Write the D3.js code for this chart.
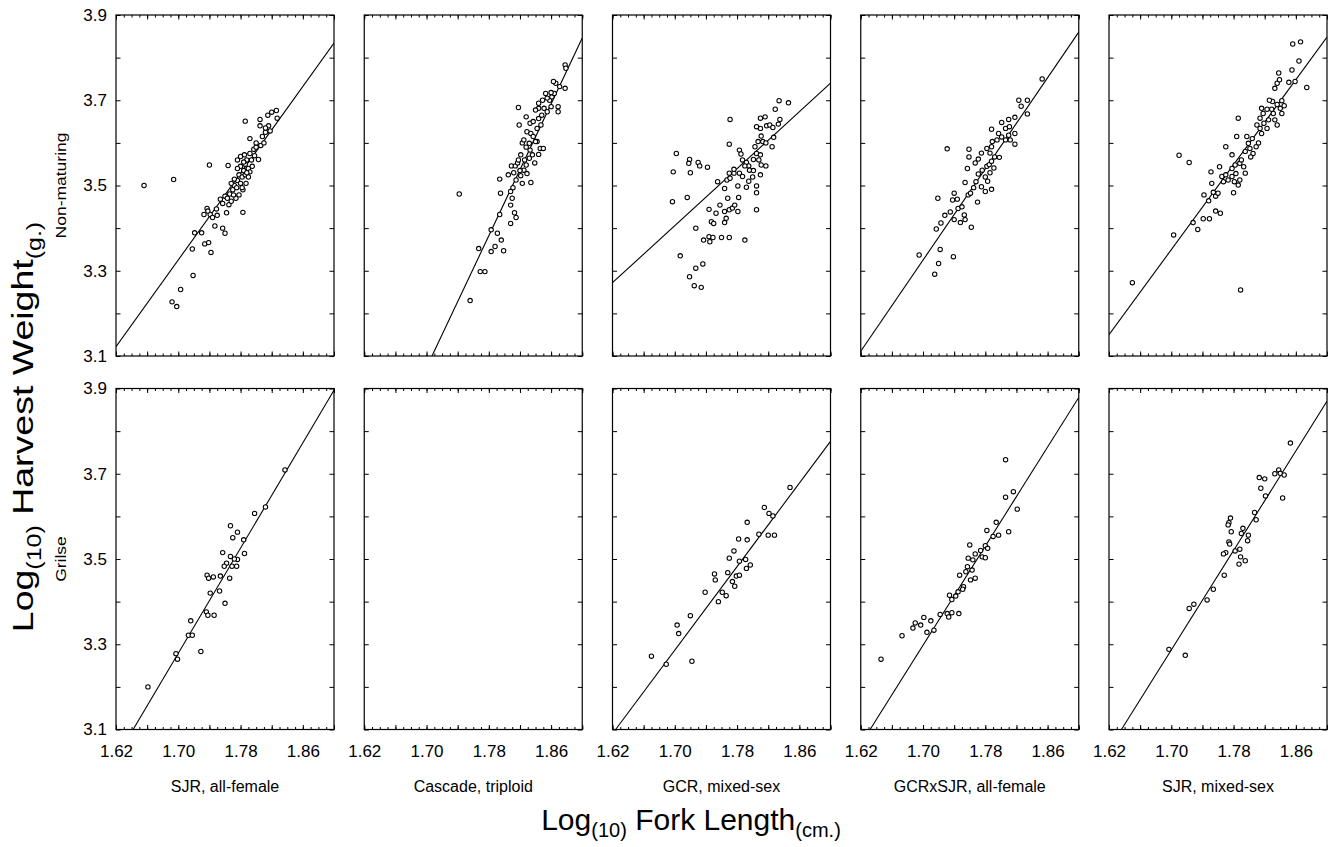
<!DOCTYPE html>
<html><head><meta charset="utf-8">
<script src="https://cdn.jsdelivr.net/npm/d3@7"></script>
<style>
body{margin:0;background:#fff}
svg{display:block}
text{font-family:"Liberation Sans",Arial,sans-serif;fill:#000}
</style>
</head><body>
<svg id="chart" width="1328" height="847"></svg>
<script>
const categories = ["SJR, all-female","Cascade, triploid","GCR, mixed-sex","GCRxSJR, all-female","SJR, mixed-sex"];
const rowLabels = ["Non-maturing","Grilse"];
const xTickValues = [1.62,1.70,1.78,1.86];
const yTickValues = [3.1,3.3,3.5,3.7,3.9];
const xDomain = [1.62,1.90];
const yDomain = [3.1,3.9];

// Non-maturing (top row)
const nmSJRFemale = [[1.656,3.50],[1.694,3.514],[1.740,3.548],[1.764,3.547],[1.786,3.651],[1.783,3.437],
[1.692,3.227],[1.698,3.216],[1.703,3.256],[1.719,3.289],[1.718,3.351],[1.721,3.389],[1.730,3.389],[1.734,3.363],[1.739,3.366],[1.742,3.343],
[1.737,3.446],[1.741,3.432],[1.749,3.445],[1.744,3.425],[1.747,3.405],[1.757,3.400],[1.760,3.388],[1.762,3.436],[1.754,3.468],[1.757,3.458],[1.760,3.475],[1.765,3.455],[1.768,3.463],[1.766,3.480],[1.770,3.490],[1.772,3.500],[1.768,3.505],[1.775,3.495],[1.778,3.478],[1.774,3.470],[1.776,3.512],[1.780,3.505],[1.778,3.525],[1.782,3.520],[1.784,3.535],[1.780,3.545],[1.786,3.550],[1.776,3.560],[1.780,3.568],[1.785,3.572],[1.788,3.560],[1.790,3.540],[1.792,3.532],[1.786,3.525],[1.790,3.520],[1.795,3.545],[1.792,3.575],[1.797,3.585],[1.800,3.590],[1.792,3.610],[1.803,3.561],[1.806,3.594],[1.810,3.600],[1.808,3.615],[1.812,3.625],[1.805,3.640],[1.805,3.655],[1.815,3.665],[1.820,3.672],[1.826,3.676],[1.827,3.658],[1.816,3.640],[1.812,3.635],[1.818,3.628],[1.800,3.600],[1.783,3.490],[1.772,3.515],[1.787,3.505],[1.782,3.495],[1.771,3.478],[1.763,3.470],[1.750,3.430],[1.738,3.440],[1.733,3.432],[1.788,3.530],[1.794,3.560],[1.798,3.570],[1.784,3.555],[1.776,3.540]];
const nmCascadeTriploid = [[1.742,3.48],[1.818,3.683],[1.756,3.23],[1.769,3.298],[1.775,3.298],[1.767,3.352],[1.783,3.396],[1.791,3.388],[1.796,3.372],[1.788,3.357],[1.783,3.345],[1.799,3.347],[1.794,3.432],[1.808,3.411],[1.813,3.436],[1.815,3.425],[1.808,3.454],[1.795,3.482],[1.794,3.515],[1.805,3.525],[1.808,3.486],[1.810,3.470],[1.811,3.495],[1.809,3.546],[1.814,3.546],[1.817,3.553],[1.821,3.572],[1.825,3.536],[1.829,3.528],[1.834,3.507],[1.823,3.505],[1.815,3.513],[1.821,3.523],[1.828,3.548],[1.832,3.564],[1.839,3.553],[1.836,3.572],[1.844,3.573],[1.846,3.587],[1.850,3.587],[1.842,3.603],[1.833,3.583],[1.823,3.600],[1.825,3.607],[1.829,3.626],[1.819,3.642],[1.828,3.661],[1.833,3.646],[1.837,3.650],[1.842,3.634],[1.847,3.642],[1.844,3.657],[1.848,3.665],[1.844,3.681],[1.851,3.681],[1.855,3.673],[1.860,3.685],[1.858,3.700],[1.861,3.708],[1.864,3.716],[1.869,3.685],[1.869,3.673],[1.860,3.718],[1.855,3.705],[1.866,3.740],[1.863,3.744],[1.871,3.732],[1.878,3.783],[1.879,3.775],[1.878,3.728],[1.853,3.716],[1.849,3.700],[1.840,3.677],[1.844,3.693],[1.834,3.622],[1.837,3.615],[1.840,3.603],[1.832,3.599],[1.828,3.590],[1.818,3.560],[1.826,3.560],[1.820,3.535],[1.812,3.530]];
const nmGCRMixed = [[1.702,3.575],[1.698,3.532],[1.697,3.462],[1.716,3.472],[1.707,3.335],[1.719,3.561],[1.718,3.552],[1.720,3.530],[1.730,3.554],[1.732,3.546],[1.742,3.543],[1.727,3.400],[1.736,3.316],[1.727,3.306],[1.719,3.286],[1.725,3.265],[1.734,3.261],[1.737,3.372],[1.744,3.380],[1.745,3.368],[1.749,3.378],[1.760,3.378],[1.770,3.378],[1.790,3.372],[1.744,3.444],[1.747,3.415],[1.750,3.411],[1.753,3.435],[1.758,3.454],[1.764,3.413],[1.766,3.423],[1.764,3.439],[1.770,3.443],[1.774,3.447],[1.777,3.454],[1.781,3.439],[1.768,3.470],[1.782,3.472],[1.805,3.443],[1.764,3.493],[1.755,3.509],[1.767,3.513],[1.771,3.517],[1.776,3.529],[1.781,3.499],[1.792,3.496],[1.805,3.499],[1.805,3.483],[1.770,3.529],[1.776,3.538],[1.783,3.529],[1.787,3.521],[1.771,3.655],[1.770,3.597],[1.783,3.583],[1.785,3.574],[1.787,3.560],[1.792,3.554],[1.795,3.546],[1.790,3.546],[1.796,3.536],[1.801,3.535],[1.801,3.561],[1.805,3.575],[1.810,3.572],[1.808,3.560],[1.811,3.548],[1.817,3.546],[1.810,3.525],[1.803,3.591],[1.807,3.603],[1.811,3.616],[1.813,3.603],[1.817,3.600],[1.825,3.591],[1.827,3.613],[1.810,3.634],[1.805,3.638],[1.810,3.658],[1.818,3.640],[1.822,3.642],[1.826,3.636],[1.833,3.644],[1.835,3.655],[1.829,3.679],[1.834,3.699],[1.846,3.694],[1.816,3.661],[1.800,3.520],[1.795,3.510]];
const nmGCRxSJRFemale = [[1.731,3.586],[1.853,3.750],[1.823,3.700],[1.834,3.700],[1.826,3.686],[1.834,3.668],[1.818,3.660],[1.810,3.655],[1.695,3.337],[1.720,3.317],[1.715,3.292],[1.722,3.350],[1.739,3.333],[1.717,3.398],[1.723,3.412],[1.719,3.470],[1.735,3.438],[1.740,3.420],[1.748,3.413],[1.754,3.420],[1.753,3.431],[1.762,3.402],[1.745,3.446],[1.738,3.466],[1.740,3.482],[1.744,3.468],[1.754,3.507],[1.758,3.478],[1.761,3.482],[1.770,3.461],[1.765,3.495],[1.768,3.509],[1.775,3.497],[1.780,3.486],[1.788,3.491],[1.771,3.527],[1.776,3.536],[1.767,3.553],[1.771,3.562],[1.775,3.576],[1.759,3.567],[1.759,3.585],[1.782,3.545],[1.785,3.549],[1.791,3.541],[1.788,3.557],[1.786,3.576],[1.792,3.567],[1.798,3.566],[1.782,3.587],[1.788,3.591],[1.789,3.603],[1.795,3.607],[1.801,3.614],[1.797,3.622],[1.788,3.632],[1.801,3.648],[1.806,3.634],[1.810,3.618],[1.812,3.607],[1.818,3.597],[1.818,3.622],[1.811,3.638],[1.806,3.607],[1.780,3.520],[1.786,3.530],[1.783,3.510],[1.750,3.450],[1.728,3.430],[1.757,3.540]];
const nmSJRMixed = [[1.650,3.272],[1.789,3.255],[1.710,3.571],[1.723,3.554],[1.703,3.384],[1.728,3.413],[1.734,3.397],[1.741,3.422],[1.749,3.422],[1.757,3.440],[1.763,3.435],[1.742,3.478],[1.748,3.464],[1.754,3.484],[1.752,3.505],[1.757,3.475],[1.760,3.482],[1.780,3.483],[1.762,3.544],[1.751,3.532],[1.765,3.521],[1.767,3.509],[1.773,3.513],[1.770,3.525],[1.778,3.521],[1.781,3.509],[1.786,3.501],[1.788,3.513],[1.783,3.528],[1.778,3.540],[1.782,3.548],[1.788,3.552],[1.793,3.544],[1.795,3.529],[1.778,3.572],[1.770,3.591],[1.784,3.615],[1.786,3.658],[1.797,3.615],[1.799,3.599],[1.801,3.587],[1.805,3.575],[1.809,3.591],[1.812,3.600],[1.802,3.567],[1.795,3.580],[1.810,3.642],[1.814,3.634],[1.816,3.622],[1.819,3.646],[1.823,3.634],[1.825,3.654],[1.814,3.658],[1.818,3.669],[1.823,3.679],[1.816,3.681],[1.829,3.679],[1.831,3.669],[1.833,3.654],[1.836,3.642],[1.830,3.697],[1.836,3.690],[1.840,3.681],[1.842,3.699],[1.845,3.687],[1.842,3.669],[1.836,3.740],[1.833,3.728],[1.839,3.748],[1.838,3.764],[1.851,3.742],[1.859,3.744],[1.864,3.792],[1.855,3.771],[1.874,3.730],[1.856,3.832],[1.866,3.837],[1.826,3.700],[1.804,3.610],[1.790,3.560]];

// Grilse (bottom row)
const grSJRFemale = [[1.837,3.709],[1.812,3.622],[1.798,3.607],[1.767,3.578],[1.776,3.563],[1.770,3.550],[1.784,3.545],[1.785,3.513],[1.776,3.499],[1.772,3.500],[1.767,3.506],[1.762,3.490],[1.757,3.515],[1.769,3.483],[1.775,3.483],[1.766,3.455],[1.759,3.483],[1.754,3.460],[1.760,3.396],[1.745,3.458],[1.737,3.462],[1.739,3.455],[1.741,3.420],[1.753,3.425],[1.736,3.376],[1.738,3.368],[1.746,3.368],[1.716,3.355],[1.713,3.321],[1.718,3.321],[1.661,3.200],[1.697,3.278],[1.699,3.265],[1.729,3.283]];
const grCascadeTriploid = [];
const grGCRMixed = [[1.848,3.668],[1.815,3.621],[1.821,3.607],[1.826,3.601],[1.793,3.586],[1.782,3.547],[1.793,3.545],[1.808,3.558],[1.820,3.556],[1.828,3.556],[1.776,3.519],[1.770,3.502],[1.783,3.495],[1.791,3.499],[1.797,3.486],[1.792,3.478],[1.768,3.468],[1.751,3.465],[1.752,3.451],[1.779,3.460],[1.783,3.462],[1.774,3.447],[1.777,3.436],[1.739,3.422],[1.761,3.422],[1.766,3.414],[1.756,3.400],[1.720,3.367],[1.703,3.345],[1.705,3.325],[1.670,3.272],[1.689,3.253],[1.722,3.260]];
const grGCRxSJRFemale = [[1.806,3.733],[1.806,3.645],[1.816,3.658],[1.821,3.617],[1.810,3.564],[1.794,3.586],[1.797,3.556],[1.790,3.553],[1.782,3.567],[1.760,3.533],[1.780,3.531],[1.783,3.525],[1.774,3.520],[1.776,3.505],[1.780,3.503],[1.767,3.512],[1.764,3.498],[1.758,3.502],[1.757,3.482],[1.763,3.474],[1.755,3.470],[1.747,3.462],[1.761,3.451],[1.767,3.455],[1.752,3.435],[1.751,3.429],[1.745,3.423],[1.734,3.415],[1.737,3.405],[1.742,3.413],[1.731,3.372],[1.737,3.374],[1.746,3.372],[1.733,3.364],[1.646,3.265],[1.673,3.320],[1.687,3.338],[1.690,3.350],[1.701,3.363],[1.705,3.328],[1.714,3.333],[1.697,3.345],[1.710,3.355],[1.722,3.370]];
const grSJRMixed = [[1.853,3.772],[1.838,3.709],[1.840,3.701],[1.845,3.697],[1.833,3.700],[1.843,3.643],[1.813,3.691],[1.820,3.688],[1.815,3.666],[1.821,3.648],[1.807,3.609],[1.809,3.592],[1.776,3.596],[1.774,3.585],[1.773,3.580],[1.777,3.564],[1.792,3.572],[1.799,3.556],[1.790,3.560],[1.798,3.543],[1.774,3.540],[1.775,3.535],[1.788,3.523],[1.782,3.519],[1.770,3.515],[1.767,3.512],[1.789,3.505],[1.787,3.488],[1.795,3.496],[1.768,3.462],[1.754,3.429],[1.746,3.404],[1.729,3.394],[1.723,3.384],[1.697,3.288],[1.718,3.274]];

// Fitted regression lines: [[x1,y1],[x2,y2]] in data units
const fitNonMaturing = [[[1.62,3.122],[1.90,3.834]],[[1.707,3.10],[1.90,3.846]],[[1.62,3.272],[1.90,3.740]],[[1.62,3.111],[1.90,3.860]],[[1.62,3.150],[1.90,3.848]]];
const fitGrilse = [[[1.642,3.10],[1.90,3.896]],null,[[1.624,3.10],[1.90,3.776]],[[1.632,3.10],[1.90,3.879]],[[1.636,3.10],[1.90,3.870]]];

const pointsByRow = [
  [nmSJRFemale,nmCascadeTriploid,nmGCRMixed,nmGCRxSJRFemale,nmSJRMixed],
  [grSJRFemale,grCascadeTriploid,grGCRMixed,grGCRxSJRFemale,grSJRMixed]
];
const fitsByRow = [fitNonMaturing, fitGrilse];

// Layout
const svg = d3.select("#chart");
const panelW = 218, panelH = 341;
const left0 = 116, stepX = 248.25;
const rowTop = [15, 388.5];

const x = d3.scaleLinear().domain(xDomain).range([0, panelW]);
const y = d3.scaleLinear().domain(yDomain).range([panelH, 0]);
const minorX = d3.range(0,29).map(i => +(1.62 + i*0.01).toFixed(2));
const majorX = d3.range(0,8).map(i => +(1.62 + i*0.04).toFixed(2));
const yTicksAll = d3.range(0,9).map(i => +(3.1 + i*0.1).toFixed(1));

svg.append("defs").append("clipPath").attr("id","pclip")
  .append("rect").attr("width",panelW).attr("height",panelH);

rowTop.forEach((top, r) => {
  categories.forEach((cat, c) => {
    const g = svg.append("g").attr("transform",`translate(${left0 + c*stepX},${top})`);
    const styleAxis = a => { a.select(".domain").remove(); a.selectAll("line").attr("stroke","#000").attr("stroke-width",1); };
    g.append("g").call(d3.axisTop(x).tickValues(minorX).tickSize(-2.5).tickFormat("")).call(styleAxis);
    g.append("g").attr("transform",`translate(0,${panelH})`).call(d3.axisBottom(x).tickValues(minorX).tickSize(-2.5).tickFormat("")).call(styleAxis);
    g.append("g").call(d3.axisTop(x).tickValues(majorX).tickSize(-4.5).tickFormat("")).call(styleAxis);
    g.append("g").attr("transform",`translate(0,${panelH})`).call(d3.axisBottom(x).tickValues(majorX).tickSize(-4.5).tickFormat("")).call(styleAxis);
    g.append("g").call(d3.axisLeft(y).tickValues(yTicksAll).tickSize(-4.5).tickFormat("")).call(styleAxis);
    g.append("g").attr("transform",`translate(${panelW},0)`).call(d3.axisRight(y).tickValues(yTicksAll).tickSize(-4.5).tickFormat("")).call(styleAxis);

    if (c === 0) {
      const ya = g.append("g").call(d3.axisLeft(y).tickValues(yTickValues).tickSize(0).tickPadding(9).tickFormat(d3.format(".1f")));
      ya.select(".domain").remove();
      ya.selectAll("text").attr("font-size",17).attr("font-family",'"Liberation Sans",Arial,sans-serif');
    }
    if (r === 1) {
      const xa = g.append("g").attr("transform",`translate(0,${panelH})`)
        .call(d3.axisBottom(x).tickValues(xTickValues).tickSize(0).tickPadding(15).tickFormat(d3.format(".2f")));
      xa.select(".domain").remove();
      xa.selectAll("text").attr("font-size",17).attr("font-family",'"Liberation Sans",Arial,sans-serif');
      g.append("text").attr("x",panelW/2).attr("y",panelH+62).attr("text-anchor","middle")
        .attr("font-size",16).text(cat);
    }

    const fit = fitsByRow[r][c];
    if (fit) {
      g.append("path").attr("clip-path","url(#pclip)")
        .attr("d", d3.line().x(d=>x(d[0])).y(d=>y(d[1]))(fit))
        .attr("fill","none").attr("stroke","#000").attr("stroke-width",1.1);
    }
    g.append("g").selectAll("circle").data(pointsByRow[r][c]).join("circle")
      .attr("cx",d=>x(d[0])).attr("cy",d=>y(d[1])).attr("r",2.2)
      .attr("fill","#fff").attr("stroke","#000").attr("stroke-width",1.05);

    g.append("rect").attr("width",panelW).attr("height",panelH)
      .attr("fill","none").attr("stroke","#000").attr("stroke-width",1.2);
  });
  svg.append("text")
    .attr("transform",`translate(66,${top + panelH/2}) rotate(-90) scale(1.25,1)`)
    .attr("text-anchor","middle").attr("font-size",14).text(rowLabels[r]);
});

const yt = svg.append("text")
  .attr("transform",`translate(33,427) rotate(-90) scale(1.25,1)`)
  .attr("text-anchor","middle").attr("font-size",30);
yt.append("tspan").text("Log");
yt.append("tspan").attr("font-size",20).attr("dy",8).text("(10)");
yt.append("tspan").attr("dy",-8).text(" Harvest Weight");
yt.append("tspan").attr("font-size",20).attr("dy",8).text("(g.)");

const xt = svg.append("text").attr("x",691).attr("y",830).attr("text-anchor","middle").attr("font-size",30);
xt.append("tspan").text("Log");
xt.append("tspan").attr("font-size",20).attr("dy",7).text("(10)");
xt.append("tspan").attr("dy",-7).text(" Fork Length");
xt.append("tspan").attr("font-size",20).attr("dy",7).text("(cm.)");
</script>
</body></html>
